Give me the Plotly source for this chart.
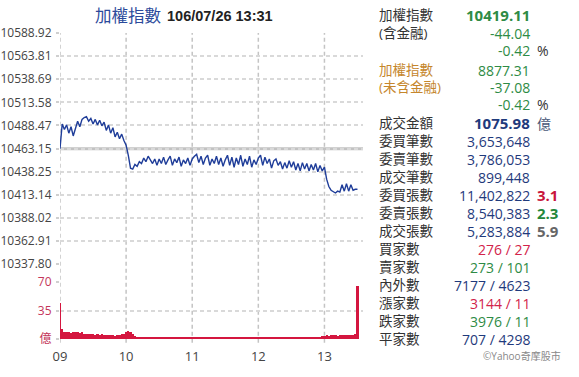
import plotly.graph_objects as go
import pandas as pd

# ---------------- data ----------------
times = pd.date_range("2017-07-26 09:00", "2017-07-26 13:30", freq="2min")

price = [
    10463.15, 10490, 10484, 10489, 10480, 10487, 10477, 10486, 10493, 10487,
    10495, 10497, 10498, 10493, 10496, 10490, 10495, 10489, 10494, 10488,
    10492, 10483, 10489, 10480, 10486, 10476, 10481, 10474, 10479, 10472,
    10467, 10456, 10442, 10441, 10446, 10444, 10449, 10447, 10453, 10449,
    10455, 10451, 10447,
    10452, 10445, 10452, 10447, 10454, 10446, 10451, 10455, 10445, 10452,
    10448, 10454, 10444, 10451, 10447, 10453, 10445, 10452, 10455, 10457,
    10448, 10455, 10446, 10453, 10456, 10445, 10452, 10447, 10455, 10446,
    10453, 10444, 10451, 10456, 10445, 10454, 10443, 10453, 10446, 10456,
    10444, 10452, 10446, 10455, 10443, 10451, 10446, 10453,
    10456, 10445, 10454, 10447, 10452, 10442, 10450, 10452, 10445, 10449,
    10441, 10448, 10442, 10450, 10443,
    10449, 10440, 10447, 10439, 10448, 10441, 10447, 10439, 10446, 10440,
    10447, 10438, 10445, 10439, 10443,
    10430, 10422, 10418, 10416, 10415, 10417, 10416, 10424, 10417, 10425,
    10417, 10424, 10418, 10419, 10419.11,
]

volume = [
    44, 12, 9, 8, 9, 7, 8, 8, 9, 7.5, 8, 6, 6.5, 6, 6, 6.5, 5.5, 6, 5.5, 6,
    5, 5.5, 5, 4.5, 5, 4, 4.5, 5, 6, 6.5, 8, 10, 9, 6, 3.5, 3,
    2.5, 2, 2.5, 2, 2.2, 2.8, 2, 1.8, 2.4, 2, 2.6, 2.1, 1.9, 2.3, 2, 2.5, 1.8, 2.2, 2, 2.7,
    2, 1.8, 2.3, 2.1, 2.5, 1.9, 2.2, 2, 2.4, 1.8,
    2.1, 2.6, 2, 1.9, 2.3, 2.2, 1.8, 2.5, 2, 2.1,
    2.4, 1.9, 2.2, 2, 2.6, 1.8, 2.1, 2.3, 2, 1.9,
    2.5, 2.2, 1.8, 2.4, 2, 2.1, 2.3, 1.9, 2.6, 2.2,
    2, 2.4, 1.9, 2.3, 2.1, 2.5, 2, 2.2, 2.7, 2.1,
    2.3, 2, 2.6, 2.2, 2.4, 2.8, 2.3, 2.5, 2.9, 2.6,
    2.7, 3, 2.8, 3.2,
    4, 4.5, 4, 5, 4.5, 5, 4.2, 5.2, 4.8, 5, 4.5, 5.5, 5, 5.2, 5.8,
    65,
]

prev_close = 10463.15
price_ticks = [10337.80, 10362.91, 10388.02, 10413.14, 10438.25, 10463.15,
               10488.47, 10513.58, 10538.69, 10563.81, 10588.92]
vol_ticks = [0, 35, 70]
vol_ticktext = ["億", "35", "70"]
hour_ticks = ["09", "10", "11", "12", "13"]

title_name = "加權指數"
title_time = "106/07/26 13:31"

labels = ["加權指數", "(含金融)", "", "加權指數", "(未含金融)", "",
          "成交金額", "委買筆數", "委賣筆數", "成交筆數", "委買張數", "委賣張數",
          "成交張數", "買家數", "賣家數", "內外數", "漲家數", "跌家數", "平家數"]
values = ["10419.11", "-44.04", "-0.42", "8877.31", "-37.08", "-0.42",
          "1075.98", "3,653,648", "3,786,053", "899,448", "11,402,822",
          "8,540,383", "5,283,884", "276 / 27", "273 / 101", "7177 / 4623",
          "3144 / 11", "3976 / 11", "707 / 4298"]
suffixes = ["", "", "%", "", "", "%", "億", "", "", "", "3.1", "2.3", "5.9",
            "", "", "", "", "", ""]
credit = "©Yahoo奇摩股市"

# ---------------- styles ----------------
W, H = 579, 377
ML, MR, MT, MB = 60, 216, 33, 38
PW, PH = W - ML - MR, H - MT - MB
FONT = "Open Sans, Noto Sans CJK TC, sans-serif"
NAVY = "#1f3a7c"
GREEN = "#2e8b45"
ORANGE = "#c5862c"
RED = "#d2234a"
DARK = "#333333"
GRID = "#d9d9d9"
VGRID = "#c4c4c4"
DASH = "4px,3px"

row_y = [15, 33, 50, 70, 87, 104, 123, 141, 159, 177, 195, 213, 231,
         249, 267, 285, 303, 321, 339]
label_colors = [DARK, DARK, DARK, ORANGE, ORANGE, DARK] + [DARK] * 13
value_colors = [GREEN, GREEN, GREEN, GREEN, GREEN, GREEN, NAVY, NAVY, NAVY,
                NAVY, NAVY, NAVY, NAVY, RED, GREEN, NAVY, RED, GREEN, NAVY]
value_bold = [True] + [False] * 5 + [True] + [False] * 12
suffix_colors = {"%": DARK, "億": "#4a5878", "3.1": "#c8143c",
                 "2.3": "#23873a", "5.9": "#666666"}


def px(x):
    return (x - ML) / PW


def py(y):
    return 1 - (y - MT) / PH


fig = go.Figure()
fig.add_trace(go.Scatter(x=times, y=price, mode="lines",
                         line=dict(color="#1f3d99", width=1.4),
                         xaxis="x", yaxis="y", hoverinfo="skip"))
fig.add_trace(go.Bar(x=times, y=volume, marker=dict(color="#d4163f", line=dict(width=0)),
                     xaxis="x", yaxis="y2", hoverinfo="skip"))

x0 = pd.Timestamp("2017-07-26 09:00")
x1 = pd.Timestamp("2017-07-26 13:35")
hour_vals = [pd.Timestamp(f"2017-07-26 {h}:00") for h in hour_ticks]

shapes = []
for hv in hour_vals:
    shapes.append(dict(type="line", xref="x", yref="paper", x0=hv, x1=hv,
                       y0=-0.012, y1=1.0, line=dict(color=VGRID, width=1.5, dash=DASH),
                       layer="below"))
shapes.append(dict(type="line", xref="paper", yref="y", x0=0, x1=1,
                   y0=prev_close, y1=prev_close,
                   line=dict(color="#c2c2c2", width=3), layer="below"))

ann = []
ann.append(dict(text=title_name, x=px(128), y=py(16), xref="paper", yref="paper",
                xanchor="center", yanchor="middle", showarrow=False,
                font=dict(size=16.5, color="#2b4a9b", family=FONT)))
ann.append(dict(text="<b>" + title_time + "</b>", x=px(220), y=py(16), xref="paper",
                yref="paper", xanchor="center", yanchor="middle", showarrow=False,
                font=dict(size=14.5, color="#222222", family="Liberation Sans, Arial")))

for i, lab in enumerate(labels):
    yy = py(row_y[i])
    if lab:
        ann.append(dict(text=lab, x=px(377), y=yy, xref="paper", yref="paper",
                        xanchor="left", yanchor="middle", showarrow=False,
                        font=dict(size=13.5, color=label_colors[i], family=FONT)))
    v = values[i]
    txt = "<b>" + v + "</b>" if value_bold[i] else v
    ann.append(dict(text=txt, x=px(532), y=yy, xref="paper", yref="paper",
                    xanchor="right", yanchor="middle", showarrow=False,
                    font=dict(size=15 if value_bold[i] else 14, color=value_colors[i], family=FONT)))
    s = suffixes[i]
    if s:
        bold = s not in ("%", "億")
        ann.append(dict(text="<b>" + s + "</b>" if bold else s, x=px(535), y=yy,
                        xref="paper", yref="paper", xanchor="left", yanchor="middle",
                        showarrow=False,
                        font=dict(size=15 if bold else 14, color=suffix_colors[s], family=FONT)))

ann.append(dict(text=credit, x=px(563), y=py(356), xref="paper", yref="paper",
                xanchor="right", yanchor="middle", showarrow=False,
                font=dict(size=10, color="#888888", family=FONT)))

grid = dict(showgrid=True, gridcolor=GRID, griddash=DASH, gridwidth=2)

fig.update_layout(
    width=W, height=H, margin=dict(l=ML, r=MR, t=MT, b=MB, autoexpand=False),
    paper_bgcolor="white", plot_bgcolor="rgba(0,0,0,0)", showlegend=False,
    bargap=0, font=dict(family=FONT, color="#444444", size=12),
    xaxis=dict(range=[x0, x1], anchor="y2", showgrid=False, zeroline=False,
               automargin=False,
               tickvals=hour_vals, ticktext=hour_ticks, ticks="", showline=False,
               tickfont=dict(size=13, color="#444444"), ticklabelstandoff=8),
    yaxis=dict(domain=[(339 - 264) / PH, 1], range=[price_ticks[0], price_ticks[-1]],
               automargin=False,
               tickvals=price_ticks, ticktext=[f"{t:.2f}" for t in price_ticks],
               zeroline=False, showline=False, ticks="outside", ticklen=3,
               tickwidth=1.5, tickcolor="#cfcfcf", tickfont=dict(size=12, color="#444444"),
               ticklabelstandoff=2, **grid),
    yaxis2=dict(domain=[0, (339 - 282) / PH], range=[0, 70], tickvals=vol_ticks,
                automargin=False,
                ticktext=vol_ticktext, zeroline=False, showline=False, ticks="outside",
                ticklen=3, tickwidth=1.5, tickcolor="#cfcfcf", ticklabelstandoff=2,
                tickfont=dict(size=12, color="#c4365a"), **grid),
    shapes=shapes, annotations=ann,
)

fig.write_html("out.html")
